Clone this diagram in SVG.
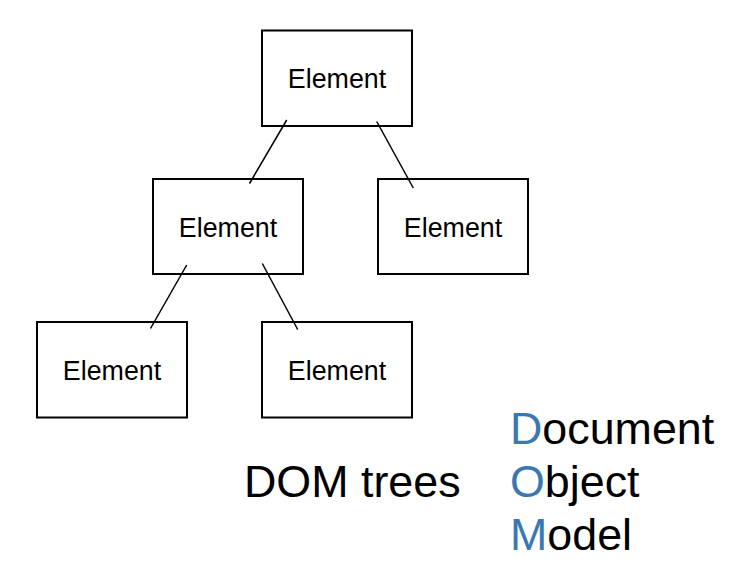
<svg xmlns="http://www.w3.org/2000/svg" width="740" height="568" viewBox="0 0 740 568">
<style>
.box{fill:#fff;stroke:#000;stroke-width:2}
.lbl{font-family:"Liberation Sans",Arial,sans-serif;font-size:26.8px;fill:#000;text-anchor:middle}
.big{font-family:"Liberation Sans",Arial,sans-serif;font-size:44.8px;fill:#000}
.hl{fill:#3b78b1}
.edge{stroke:#000;stroke-width:1.5;fill:none}
</style>
<rect width="740" height="568" fill="#fff"/>
<g id="n-root"><rect class="box" x="262" y="30.5" width="150" height="95.5"/><text class="lbl" x="337" y="88">Element</text></g>
<g id="n-left"><rect class="box" x="153" y="179" width="150" height="95"/><text class="lbl" x="228" y="237">Element</text></g>
<g id="n-right"><rect class="box" x="378" y="179" width="150" height="95"/><text class="lbl" x="453" y="237">Element</text></g>
<g id="n-ll"><rect class="box" x="37" y="322" width="150" height="95.5"/><text class="lbl" x="112" y="380">Element</text></g>
<g id="n-lr"><rect class="box" x="262" y="322" width="150" height="95.5"/><text class="lbl" x="337" y="380">Element</text></g>
<g id="connectors">
<line class="edge" x1="286.7" y1="120" x2="249.5" y2="183.5"/>
<line class="edge" x1="376.7" y1="121.5" x2="413.3" y2="188"/>
<line class="edge" x1="186.7" y1="265" x2="150.5" y2="328.5"/>
<line class="edge" x1="262.3" y1="263.5" x2="297.7" y2="329.5"/>
</g>
<text class="big" x="244" y="497">DOM trees</text>
<text class="big" x="510" y="443.5"><tspan class="hl">D</tspan>ocument</text>
<text class="big" x="510" y="497"><tspan class="hl">O</tspan>bject</text>
<text class="big" x="510" y="550"><tspan class="hl">M</tspan>odel</text>
</svg>
